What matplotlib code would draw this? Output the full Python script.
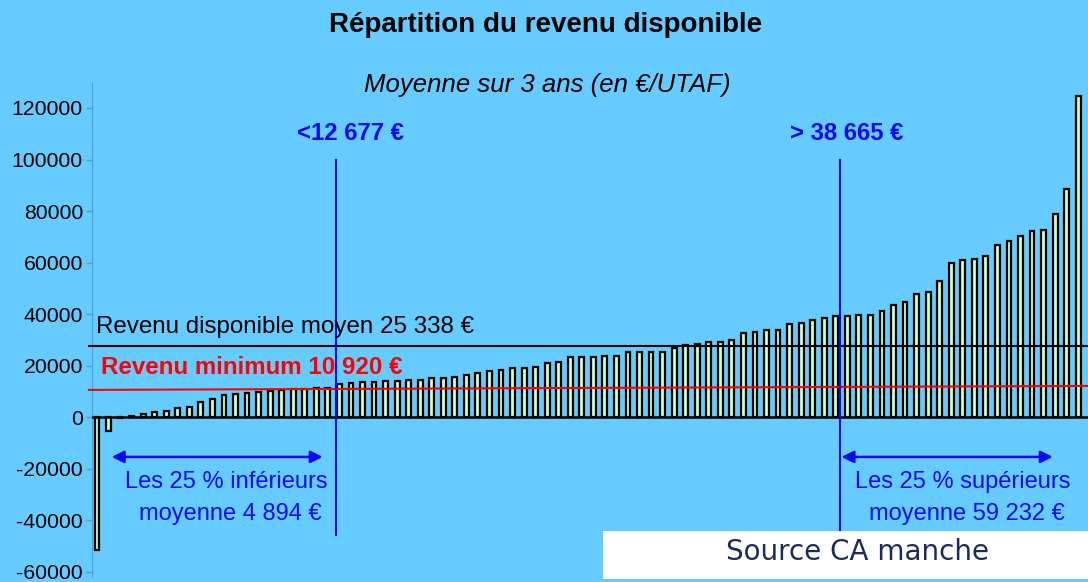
import matplotlib
matplotlib.use("Agg")
import matplotlib.pyplot as plt
from matplotlib.patches import Rectangle

plt.rcParams['font.family'] = ['Liberation Sans', 'DejaVu Sans']

# revenu disponible par exploitation, trié (€/UTAF)
revenus = [-51700, -5400, -300, 500, 1300, 2000, 2300, 3700, 4100, 6000,
           7200, 8800, 9100, 9500, 9700, 10200, 10500, 11100, 11100, 11400,
           11500, 12900, 13200, 13500, 13700, 13900, 14000, 14500, 14500, 15300,
           15300, 15500, 16300, 17100, 18000, 18400, 19000, 19000, 19300, 21000,
           21400, 23200, 23300, 23400, 23600, 23700, 25200, 25200, 25200, 25400,
           26700, 28100, 28400, 29100, 29100, 30000, 32500, 33100, 33700, 34000,
           36100, 36600, 37800, 38600, 39200, 39400, 39700, 39700, 41200, 43400,
           44900, 47900, 48500, 52700, 59700, 61200, 61500, 62400, 66700, 68500,
           70300, 72200, 72500, 79000, 88700, 124500]

moyenne_ligne = 27770
minimum_ligne = [10600, 12150]
yticks = [-60000, -40000, -20000, 0, 20000, 40000, 60000, 80000, 100000, 120000]

bg = '#66CCFF'
blue = '#0A0AF0'

fig = plt.figure(figsize=(10.88, 5.82), dpi=100, facecolor=bg)
ax = fig.add_axes([92 / 1088, 5 / 582, 996 / 1088, 494 / 582])
ax.set_facecolor(bg)

x = list(range(len(revenus)))
ax.bar(x, revenus, width=0.42, color='#CCFFCC', edgecolor='black', linewidth=1.6, zorder=3)

ax.set_xlim(-0.43, 85.85)
ax.set_ylim(-62000, 129700)
ax.set_yticks(yticks)
ax.set_yticklabels([str(v) for v in yticks], fontsize=15.3)
ax.set_xticks([])
for s in ['top', 'right', 'bottom']:
    ax.spines[s].set_visible(False)
ax.spines['left'].set_color('#4C9FD6')
ax.tick_params(axis='y', colors='#4C9FD6', labelcolor='black', length=4.5, width=1, pad=2)

# lignes horizontales
ax.axhline(0, color='black', lw=1.8, zorder=4)
ax.plot([-0.7, 85.85], [moyenne_ligne, moyenne_ligne], color='black', lw=1.5, zorder=4, clip_on=False)
ax.plot([-0.7, 85.85], minimum_ligne, color='red', lw=1.5, zorder=4, clip_on=False)

# quartiles
ax.plot([20.68, 20.68], [100000, -45700], color=blue, lw=1.5, zorder=5)
ax.plot([64.35, 64.35], [100000, -45700], color=blue, lw=1.5, zorder=5)
for x0, x1 in [(1.28, 19.56), (64.5, 82.8)]:
    ax.annotate('', xy=(x0, -15400), xytext=(x1, -15400),
                arrowprops=dict(arrowstyle='<|-|>', color=blue, lw=1.8,
                                mutation_scale=18, shrinkA=0, shrinkB=0))


def ftext(px, py, s, **kw):
    fig.text(px / 1088, 1 - py / 582, s, **kw)


ftext(546, 25, 'Répartition du revenu disponible', fontsize=20, fontweight='bold',
      ha='center', va='center')
ftext(547, 85, 'Moyenne sur 3 ans (en €/UTAF)', fontsize=18.5, style='italic',
      ha='center', va='center')
ftext(350, 133, '<12 677 €', fontsize=17.2, fontweight='bold', color=blue, ha='center', va='center')
ftext(847, 133, '> 38 665 €', fontsize=17.2, fontweight='bold', color=blue, ha='center', va='center')
ftext(96, 327, 'Revenu disponible moyen 25 338 €', fontsize=17.4, ha='left', va='center')
ftext(101, 367, 'Revenu minimum 10 920 €', fontsize=17.4, fontweight='bold', color='red',
      ha='left', va='center')
ftext(226, 482, 'Les 25 % inférieurs', fontsize=17, color=blue, ha='center', va='center')
ftext(230, 514, 'moyenne 4 894 €', fontsize=17, color=blue, ha='center', va='center')
ftext(963, 482, 'Les 25 % supérieurs', fontsize=17, color=blue, ha='center', va='center')
ftext(967, 514, 'moyenne 59 232 €', fontsize=17, color=blue, ha='center', va='center')

# encadré source
fig.patches.append(Rectangle((603 / 1088, 1 - 579 / 582), 485 / 1088, 48 / 582,
                             transform=fig.transFigure, facecolor='white',
                             edgecolor='none', zorder=10))
fig.text(858 / 1088, 1 - 552 / 582, 'Source CA manche', fontsize=20, color='#1C2A5E',
         family='DejaVu Sans', ha='center', va='center', zorder=11)

fig.savefig('out.png', dpi=100, facecolor=bg)
